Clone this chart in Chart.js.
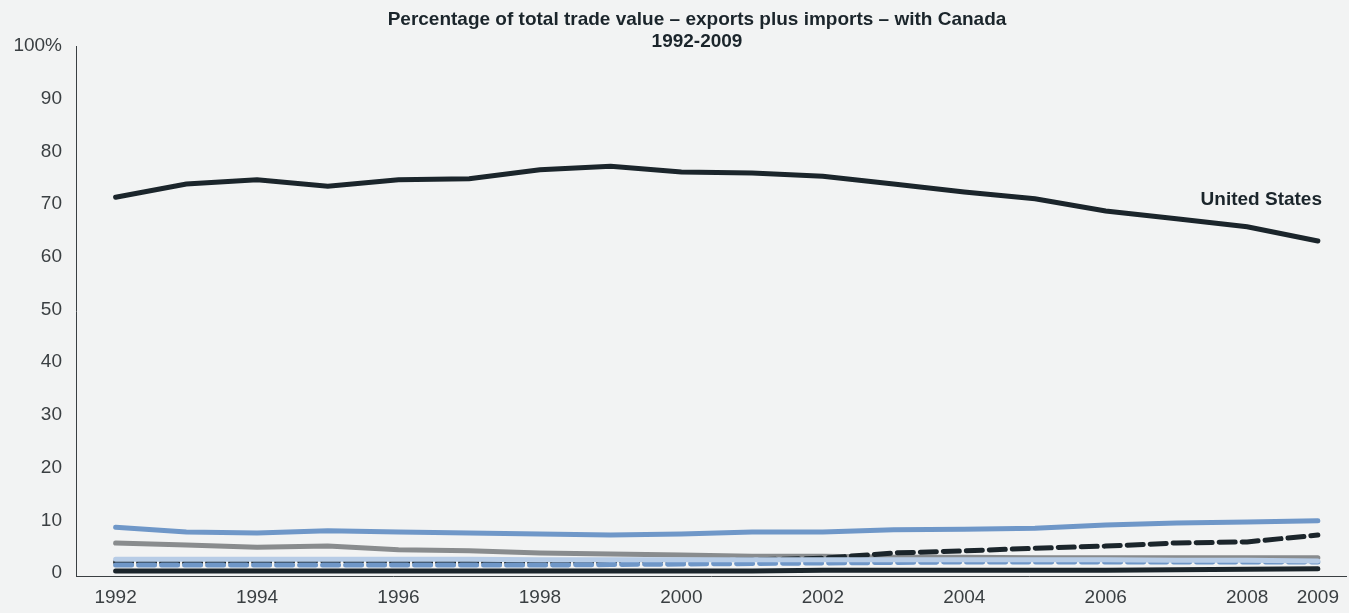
<!DOCTYPE html>
<html>
<head>
<meta charset="utf-8">
<script src="https://cdn.jsdelivr.net/npm/chart.js@4"></script>
<style>
  html, body { margin: 0; padding: 0; background: #f2f3f3; }
  #wrap { width: 1349px; height: 613px; position: relative; }
</style>
</head>
<body>
<div id="wrap"><canvas id="myChart" width="1349" height="613"></canvas></div>
<script>
// years on the x axis
var years = [1992,1993,1994,1995,1996,1997,1998,1999,2000,2001,2002,2003,2004,2005,2006,2007,2008,2009]
var xTicks = [1992,1994,1996,1998,2000,2002,2004,2006,2008,2009]
var yTicks = [0,10,20,30,40,50,60,70,80,90,100]

// share of Canada's total trade, percent
var unitedStates = [71.3,73.8,74.6,73.4,74.6,74.8,76.5,77.2,76.1,75.9,75.3,73.8,72.3,71.0,68.7,67.2,65.7,63.0]
var blueSolid    = [8.7,7.8,7.6,8.0,7.8,7.6,7.4,7.2,7.4,7.8,7.8,8.2,8.3,8.5,9.1,9.5,9.7,9.9]
var graySolid    = [5.7,5.3,4.9,5.1,4.4,4.2,3.8,3.6,3.4,3.2,3.2,3.0,3.0,2.9,2.9,2.9,2.9,2.9]
var blackDashed  = [2.1,2.0,2.1,2.3,2.1,2.1,2.1,2.1,2.3,2.5,2.8,3.8,4.2,4.7,5.1,5.7,5.9,7.2]
var blueDashed   = [1.5,1.5,1.5,1.5,1.5,1.5,1.5,1.6,1.7,1.8,1.9,2.0,2.1,2.1,2.1,2.1,2.1,2.1]
var paleSolid    = [2.6,2.6,2.6,2.6,2.6,2.6,2.5,2.5,2.5,2.5,2.5,2.5,2.5,2.5,2.5,2.4,2.4,2.3]
var blackSolid   = [0.4,0.4,0.4,0.4,0.4,0.4,0.4,0.4,0.4,0.4,0.5,0.5,0.5,0.5,0.5,0.6,0.7,0.8]

function pts(vals){
  return years.map(function(y,i){ return {x: y, y: vals[i]} })
}

var dark = "#1b252b"

var overlay = {
  id: "overlay",
  afterDraw: function(chart){
    var ctx = chart.ctx
    ctx.save()
    ctx.fillStyle = dark
    ctx.textAlign = "center"
    ctx.textBaseline = "middle"
    ctx.font = "bold 19px 'Liberation Sans', Arial, sans-serif"
    ctx.fillText("Percentage of total trade value \u2013 exports plus imports \u2013 with Canada", 697, 20)
    ctx.fillText("1992-2009", 697, 42)
    var xs = chart.scales.x, ys = chart.scales.y
    ctx.font = "bold 19px 'Liberation Sans', Arial, sans-serif"
    ctx.fillText("United States", xs.getPixelForValue(2008.2), ys.getPixelForValue(70.8))
    ctx.restore()
  }
}

var myChart = document.getElementById("myChart").getContext('2d')
var chart = new Chart(myChart, {
  type: "line",
  data: {
    datasets: [
      { label: "pale", data: pts(paleSolid), borderColor: "#b7cce6", borderWidth: 5 },
      { label: "blue dashed", data: pts(blueDashed), borderColor: "#6f97c8", borderWidth: 5, borderDash: [16,7] },
      { label: "black dashed", data: pts(blackDashed), borderColor: dark, borderWidth: 5, borderDash: [16,7] },
      { label: "gray", data: pts(graySolid), borderColor: "#898c8e", borderWidth: 5 },
      { label: "blue", data: pts(blueSolid), borderColor: "#6f97c8", borderWidth: 5 },
      { label: "black", data: pts(blackSolid), borderColor: dark, borderWidth: 5 },
      { label: "United States", data: pts(unitedStates), borderColor: dark, borderWidth: 5 }
    ]
  },
  options: {
    responsive: false,
    animation: false,
    layout: { padding: { top: 46, right: 0, left: 0, bottom: 0 } },
    elements: { point: { radius: 0 }, line: { tension: 0, borderCapStyle: "round" } },
    plugins: { legend: { display: false }, title: { display: false }, tooltip: { enabled: false } },
    scales: {
      x: {
        type: "linear",
        min: 1991.44,
        max: 2009.4,
        grid: { display: false, drawTicks: false },
        border: { display: true, color: "#3a3f42", width: 1 },
        afterBuildTicks: function(s){ s.ticks = xTicks.map(function(v){ return {value: v} }) },
        afterFit: function(s){ s.height = 37 },
        ticks: {
          autoSkip: false,
          maxRotation: 0,
          padding: 10,
          color: "#3a3f42",
          font: { family: "'Liberation Sans', Arial, sans-serif", size: 19 },
          callback: function(v){ return String(v) }
        }
      },
      y: {
        min: -0.57,
        max: 100,
        grid: { display: false, drawTicks: false },
        border: { display: true, color: "#3a3f42", width: 1 },
        afterBuildTicks: function(s){ s.ticks = yTicks.map(function(v){ return {value: v} }) },
        afterFit: function(s){ s.width = 76 },
        ticks: {
          padding: 14,
          color: "#3a3f42",
          font: { family: "'Liberation Sans', Arial, sans-serif", size: 19 },
          callback: function(v){ return v === 100 ? "100%" : String(v) }
        }
      }
    }
  },
  plugins: [overlay]
})
</script>
</body>
</html>
